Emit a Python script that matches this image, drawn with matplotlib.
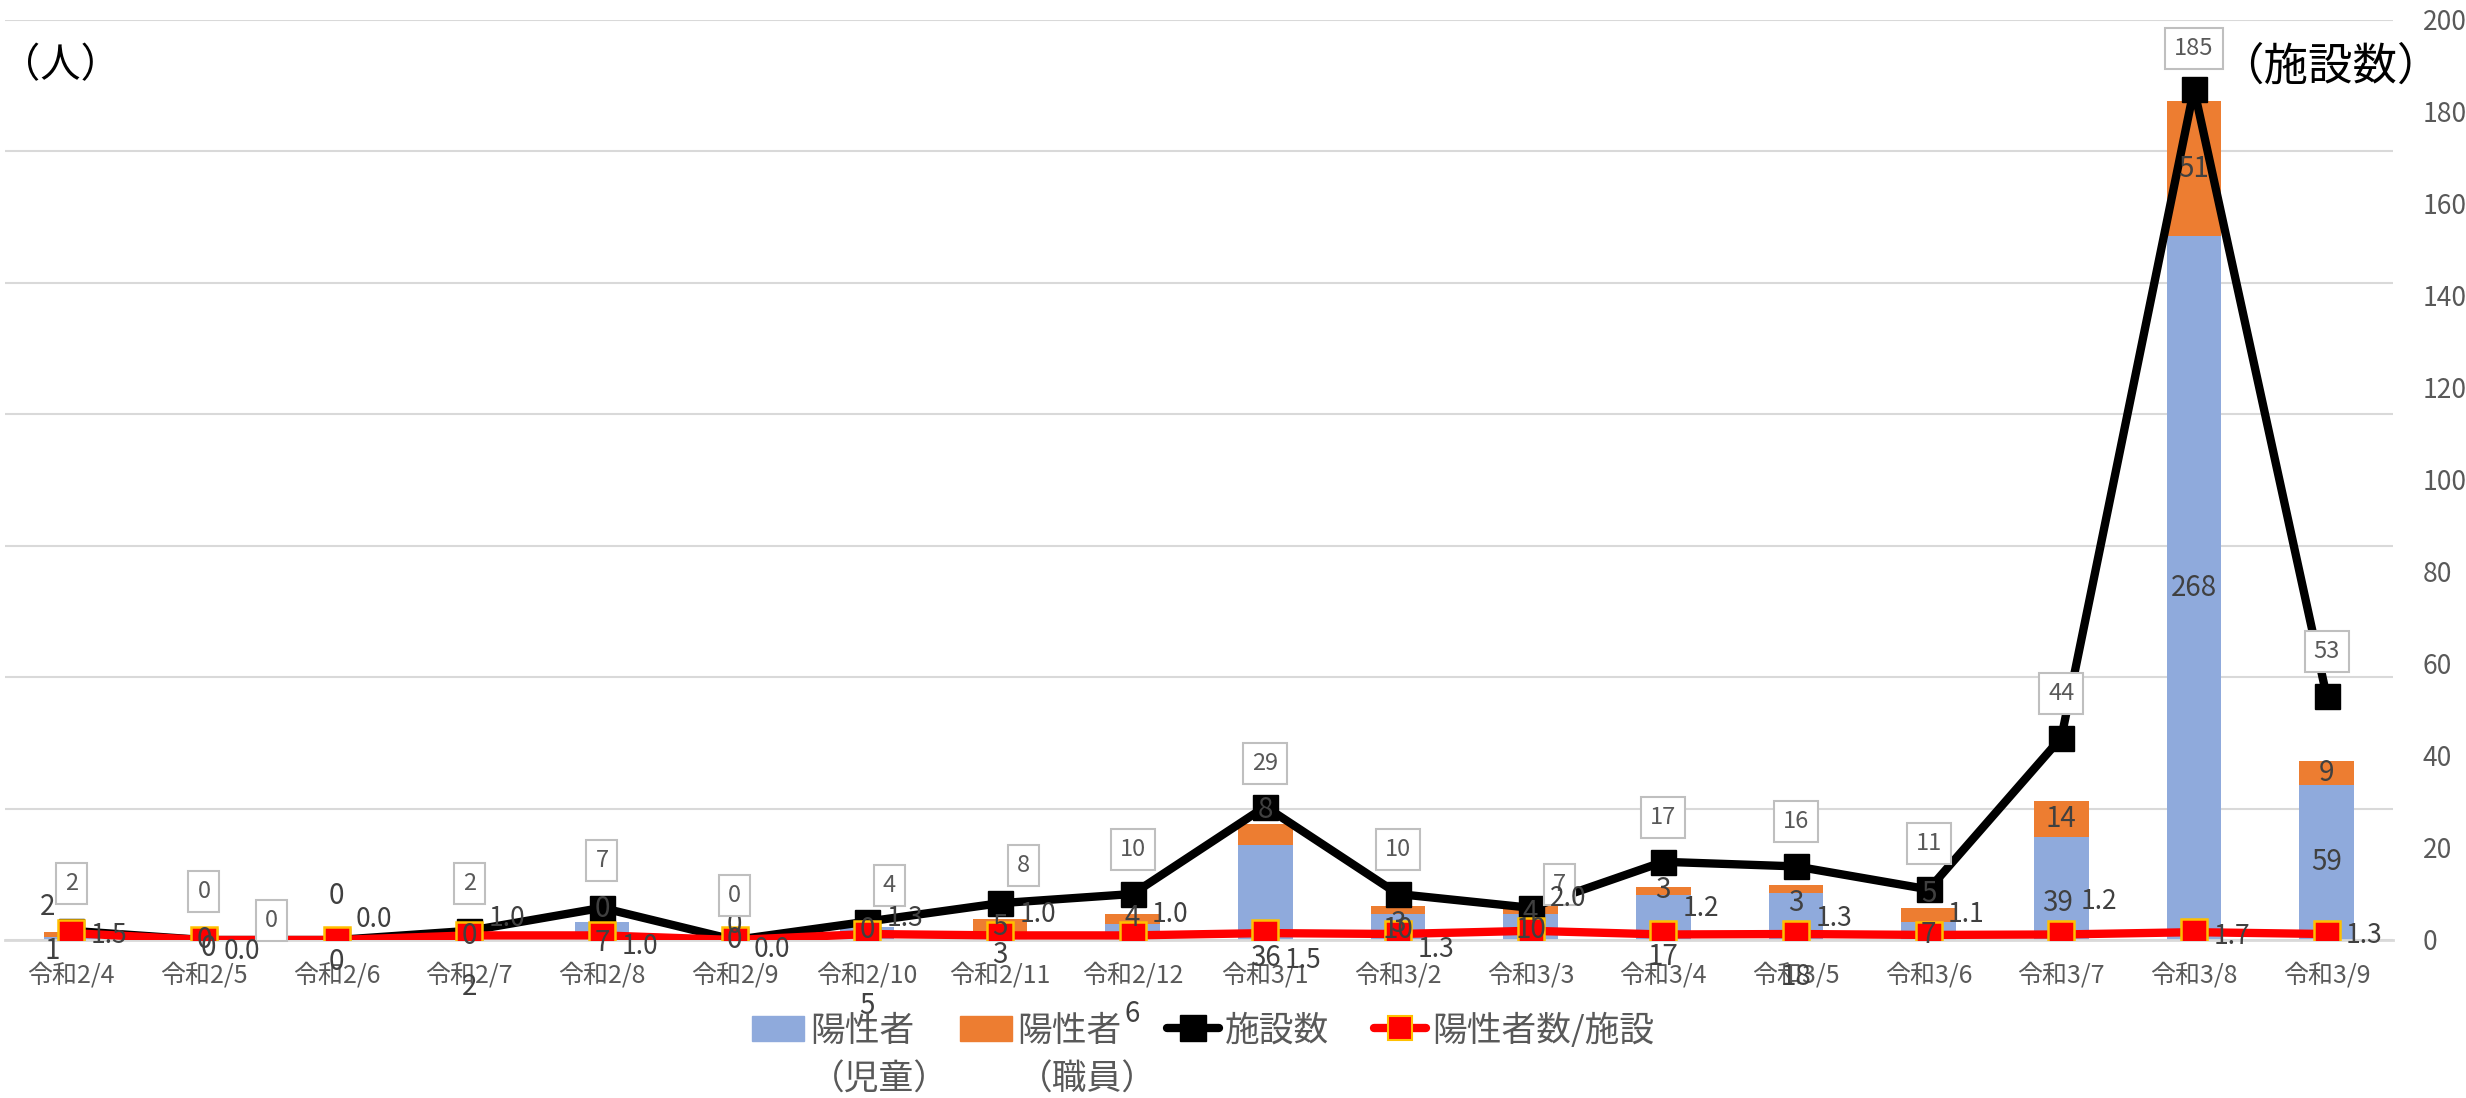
import matplotlib.pyplot as plt
from matplotlib.patches import Patch
from matplotlib.lines import Line2D

plt.rcParams['font.family'] = ['Noto Sans CJK JP', 'DejaVu Sans']

months = ['令和2/4', '令和2/5', '令和2/6', '令和2/7', '令和2/8', '令和2/9',
          '令和2/10', '令和2/11', '令和2/12', '令和3/1', '令和3/2', '令和3/3',
          '令和3/4', '令和3/5', '令和3/6', '令和3/7', '令和3/8', '令和3/9']
children = [1, 0, 0, 2, 7, 0, 5, 3, 6, 36, 10, 10, 17, 18, 7, 39, 268, 59]
staff = [2, 0, 0, 0, 0, 0, 0, 5, 4, 8, 3, 4, 3, 3, 5, 14, 51, 9]
facilities = [2, 0, 0, 2, 7, 0, 4, 8, 10, 29, 10, 7, 17, 16, 11, 44, 185, 53]
ratio = [1.5, 0.0, 0.0, 1.0, 1.0, 0.0, 1.3, 1.0, 1.0, 1.5, 1.3, 2.0, 1.2, 1.3, 1.1, 1.2, 1.7, 1.3]

# label nudges (points), the reference has hand-moved labels
child_off = [(-14, -9), (0, 0), (0, -16), (0, -36), (0, -9), (0, 0), (0, -52), (0, -14), (0, -59),
             (0, -47), (0, -2), (0, -2), (0, -28), (0, -44), (0, -3), (-3, -10), (0, 0), (0, 0)]
staff_off = [(-17, 20), (3, -6), (0, 32), (0, -1), (0, 9), (0, 11), (0, -2), (0, -1), (0, 1),
             (0, 18), (0, -10), (0, -3), (0, 1), (0, -10), (0, 15), (0, 0), (0, 0), (0, 0)]
fac_off = [(0, 34), (0, 35), (-47, 14), (0, 34), (0, 34), (0, 32), (16, 26), (17, 27), (0, 32),
           (0, 31), (0, 32), (21, 17), (0, 32), (0, 32), (0, 33), (0, 32), (0, 29), (0, 32)]
ratio_dy = [-2, -8, 15, 12, -8, -7, 11, 15, 15, -20, -11, 23, 19, 11, 15, 24, -3, -1]

BLUE = '#8FAADC'
ORANGE = '#ED7D31'
GOLD = '#FFC000'
GRID = '#D9D9D9'
TXT = '#404040'
TXT2 = '#595959'

x = list(range(len(months)))

fig = plt.figure(figsize=(24.66, 10.98), dpi=100)
ax = fig.add_axes([0.002, 0.1439, 0.9684, 0.8379])
ax2 = ax.twinx()

ax.bar(x, children, width=0.41, color=BLUE, zorder=2)
ax.bar(x, staff, width=0.41, bottom=children, color=ORANGE, zorder=2)
ax.set_ylim(0, 350)
ax.set_yticks(range(0, 351, 50))
ax.set_xlim(-0.5, len(months) - 0.5)
ax.grid(axis='y', color=GRID, lw=1.5)
ax.set_axisbelow(True)
ax.tick_params(axis='y', left=False, labelleft=False)
ax.set_xticks(x, months)
ax.tick_params(axis='x', length=0, pad=16, labelsize=18, labelcolor=TXT2)
for s in ['top', 'left', 'right']:
    ax.spines[s].set_visible(False)
ax.spines['bottom'].set_color(GRID)
ax.spines['bottom'].set_linewidth(2)

ax2.plot(x, facilities, color='black', lw=6, marker='s', ms=18, zorder=3)
ax2.plot(x, ratio, color='red', lw=6, marker='s', ms=19, mfc='red', mec=GOLD, mew=1.8, zorder=4)
ax2.set_ylim(0, 200)
ax2.set_yticks(range(0, 201, 20))
ax2.tick_params(axis='y', right=False, pad=18, labelsize=19, labelcolor=TXT2)
for s in ax2.spines.values():
    s.set_visible(False)

# bar value labels
for i in x:
    ax2.annotate(str(children[i]), xy=(i, children[i] / 2), xycoords=ax.transData,
                 xytext=child_off[i], textcoords='offset points',
                 ha='center', va='center', fontsize=20, color=TXT, zorder=6)
    ax2.annotate(str(staff[i]), xy=(i, children[i] + staff[i] / 2), xycoords=ax.transData,
                 xytext=staff_off[i], textcoords='offset points',
                 ha='center', va='center', fontsize=20, color=TXT, zorder=6)
    ax2.annotate(str(facilities[i]), xy=(i, facilities[i]), xytext=fac_off[i],
                 textcoords='offset points', ha='center', va='center', fontsize=17, color=TXT2,
                 bbox=dict(boxstyle='square,pad=0.38', fc='white', ec='#BFBFBF', lw=1.5), zorder=7)
    ax2.annotate(f'{ratio[i]:.1f}', xy=(i, ratio[i]), xytext=(14, ratio_dy[i]),
                 textcoords='offset points', ha='left', va='center', fontsize=19, color=TXT, zorder=8)

fig.text(0.0, 1 - 66 / 1098, '（人）', fontsize=29, ha='left', va='center')
fig.text(2219 / 2466, 1 - 67 / 1098, '（施設数）', fontsize=32, ha='left', va='center')

handles = [Patch(color=BLUE), Patch(color=ORANGE),
           Line2D([], [], color='black', lw=6, marker='s', ms=19, solid_capstyle='round'),
           Line2D([], [], color='red', lw=6, marker='s', ms=17, mfc='red', mec=GOLD, mew=1.5,
                  solid_capstyle='round')]
labels = ['陽性者', '陽性者', '施設数', '陽性者数/施設']
leg = fig.legend(handles, labels, loc='center', bbox_to_anchor=(0.488, 1 - 1031 / 1098),
                 ncol=4, frameon=False, fontsize=25, handlelength=1.5, handletextpad=0.17,
                 columnspacing=1.3, labelcolor=TXT2)

fig.canvas.draw()
inv = fig.transFigure.inverted()
for t, sub in zip(leg.get_texts()[:2], ['（児童）', '（職員）']):
    bb = t.get_window_extent()
    fx, fy = inv.transform((bb.x0, (bb.y0 + bb.y1) / 2 - 49))
    fig.text(fx, fy, sub, fontsize=25, color=TXT2, ha='left', va='center')

fig.savefig('out.png', dpi=100)
